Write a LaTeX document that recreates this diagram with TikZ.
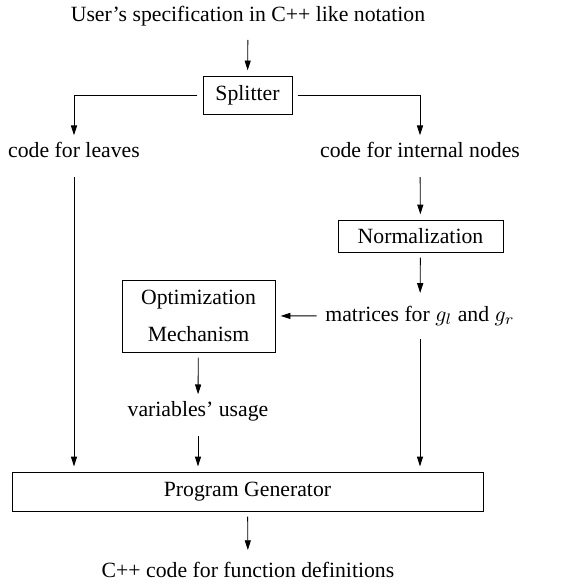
\documentclass[tikz,border=0pt]{standalone}
\usepackage{fontspec}
\setmainfont{Liberation Serif}
\usepackage{tikz}
\usetikzlibrary{arrows.meta, positioning}

\begin{document}
\begin{tikzpicture}[x=0.46pt, y=-0.46pt,
			block/.style={draw, rectangle, inner sep=0pt, outer sep=2.6pt},
			label/.style={inner sep=0pt, outer sep=3pt, anchor=base, text height=7pt, text depth=2.2pt},
			flow/.style={thin, black, -{Triangle[length=4.5pt, width=2.8pt]}}
			]
			\useasboundingbox (0,0) rectangle (565,587);
			
			\node [label](spec) at (248,21) {User's specification in C++ like notation};
			\node [block, minimum width=40.9pt, minimum height=17.5pt](split) at (247.5,95) {Splitter};
			
			\node [label](leaves) at (74,157) {code for leaves};
			\node [label](internal) at (420,157) {code for internal nodes};
			
			\node [block, minimum width=75.9pt, minimum height=14.7pt](norm) at (420.5,236) {Normalization};
			\node [label](mat) at (420,321) {matrices for $g_l$ and $g_r$};
			
			\node [block, align=center, minimum width=70.4pt, minimum height=33.1pt](opt) at (198.5,316) {Optimization\\[4.9pt]Mechanism};
			\node [label](usage) at (198,416) {variables' usage};
			
			\node [block, minimum width=216.7pt, minimum height=17.9pt](pg) at (247.5,491.5) {Program Generator};
			\node [label](out) at (248,577) {C++ code for function definitions};
			
			
			\draw[flow, shorten <=3.5pt] (spec) -- (split);
			
			\draw[flow] (split.west) -| (leaves);
			\draw[flow] (split.east) -| (internal);
			
			\draw[flow, shorten <=4pt] (leaves) -- (leaves |- pg.north);
			\draw[flow, shorten <=4pt] (internal) -- (norm);
			\draw[flow, shorten >=2.9pt] (norm) -- (mat);
			
			\draw[flow, shorten <=1pt] (mat) -- (opt);
			\draw[flow, shorten <=3pt] (mat) -- (mat |- pg.north);
			
			\draw[flow] (opt) -- (usage);
			\draw[flow, shorten <=4pt] (usage) -- (pg.north -| usage);
			
			\draw[flow, shorten >=2.4pt] (pg) -- (out);
			
		\end{tikzpicture}
\end{document}
